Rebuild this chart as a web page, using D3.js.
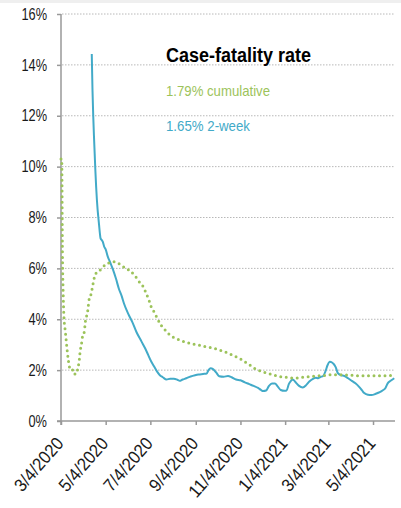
<!DOCTYPE html>
<html><head><meta charset="utf-8">
<script src="https://cdn.jsdelivr.net/npm/d3@7"></script>
<style>
html,body{margin:0;padding:0;background:#fff;}
svg{display:block;}
text{font-family:"Liberation Sans",Arial,sans-serif;}
</style></head><body>
<svg id="c" width="401" height="508"></svg>
<script>
const title = "Case-fatality rate";
const legendLabels = ["1.79% cumulative", "1.65% 2-week"];
const yTicks = [0, 2, 4, 6, 8, 10, 12, 14, 16];
const xTickDates = ["2020-03-04","2020-05-04","2020-07-04","2020-09-04","2020-11-04","2021-01-04","2021-03-04","2021-05-04"];

const cumDates = ["2020-03-04","2020-03-05","2020-03-06","2020-03-07","2020-03-08","2020-03-10","2020-03-12","2020-03-14","2020-03-16","2020-03-19","2020-03-21","2020-03-25","2020-03-27","2020-03-29","2020-03-30","2020-04-01","2020-04-02","2020-04-05","2020-04-06","2020-04-08","2020-04-10","2020-04-11","2020-04-14","2020-04-16","2020-04-18","2020-04-21","2020-04-28","2020-05-03","2020-05-09","2020-05-16","2020-05-23","2020-05-30","2020-06-06","2020-06-13","2020-06-18","2020-06-24","2020-06-28","2020-07-02","2020-07-05","2020-07-10","2020-07-14","2020-07-19","2020-07-25","2020-07-31","2020-08-08","2020-08-15","2020-08-23","2020-08-31","2020-09-08","2020-09-17","2020-09-25","2020-10-03","2020-10-11","2020-10-19","2020-10-27","2020-11-03","2020-11-10","2020-11-17","2020-11-25","2020-12-03","2020-12-11","2020-12-19","2020-12-28","2021-01-05","2021-01-13","2021-01-21","2021-01-29","2021-02-06","2021-02-15","2021-02-23","2021-03-04","2021-03-12","2021-03-20","2021-03-29","2021-04-05","2021-04-14","2021-04-30","2021-05-17","2021-05-29"];
const cumValues = [10.3,10.3,6.5,5.0,4.1,3.5,2.9,2.4,2.1,2.1,1.85,1.85,2.08,2.4,2.71,3.03,3.26,3.54,3.85,4.13,4.44,4.72,4.99,5.27,5.58,5.82,5.97,6.13,6.22,6.26,6.17,6.03,5.91,5.71,5.5,5.29,5.04,4.76,4.5,4.25,4.0,3.75,3.55,3.37,3.25,3.16,3.09,3.03,2.99,2.92,2.88,2.82,2.75,2.66,2.55,2.46,2.33,2.2,2.04,1.95,1.88,1.81,1.74,1.72,1.69,1.69,1.72,1.74,1.77,1.78,1.81,1.82,1.82,1.81,1.80,1.78,1.78,1.78,1.79];

const twoWeekDates = ["2020-04-15","2020-04-16","2020-04-17","2020-04-18","2020-04-19","2020-04-20","2020-04-21","2020-04-22","2020-04-23","2020-04-24","2020-04-25","2020-04-26","2020-04-27","2020-04-29","2020-04-30","2020-05-02","2020-05-04","2020-05-07","2020-05-10","2020-05-14","2020-05-18","2020-05-22","2020-05-26","2020-05-29","2020-06-04","2020-06-10","2020-06-15","2020-06-22","2020-06-27","2020-07-01","2020-07-05","2020-07-09","2020-07-13","2020-07-17","2020-07-21","2020-07-26","2020-07-31","2020-08-05","2020-08-10","2020-08-13","2020-08-17","2020-08-22","2020-08-28","2020-09-03","2020-09-08","2020-09-14","2020-09-19","2020-09-21","2020-09-24","2020-09-28","2020-10-02","2020-10-06","2020-10-12","2020-10-18","2020-10-23","2020-10-29","2020-11-04","2020-11-10","2020-11-16","2020-11-22","2020-11-28","2020-12-02","2020-12-05","2020-12-09","2020-12-13","2020-12-17","2020-12-21","2020-12-25","2020-12-29","2021-01-03","2021-01-06","2021-01-09","2021-01-12","2021-01-14","2021-01-16","2021-01-19","2021-01-23","2021-01-28","2021-02-02","2021-02-06","2021-02-11","2021-02-15","2021-02-18","2021-02-21","2021-02-25","2021-02-28","2021-03-03","2021-03-06","2021-03-09","2021-03-11","2021-03-14","2021-03-17","2021-03-21","2021-03-26","2021-03-31","2021-04-05","2021-04-10","2021-04-15","2021-04-19","2021-04-22","2021-04-27","2021-05-02","2021-05-07","2021-05-12","2021-05-17","2021-05-21","2021-05-24","2021-05-28","2021-06-02"];
const twoWeekValues = [14.43,13.0,12.0,11.2,10.5,9.8,9.2,8.7,8.3,8.0,7.7,7.4,7.18,7.1,7.05,6.85,6.75,6.45,6.25,5.95,5.6,5.2,4.9,4.62,4.2,3.85,3.5,3.12,2.85,2.6,2.35,2.15,1.95,1.8,1.72,1.63,1.66,1.66,1.62,1.58,1.63,1.68,1.75,1.8,1.83,1.85,1.87,1.98,2.07,2.03,1.9,1.76,1.74,1.77,1.72,1.63,1.6,1.52,1.45,1.38,1.3,1.22,1.18,1.2,1.38,1.47,1.47,1.35,1.22,1.19,1.2,1.45,1.58,1.63,1.6,1.5,1.38,1.32,1.42,1.55,1.66,1.7,1.68,1.73,1.77,1.95,2.2,2.33,2.3,2.25,2.12,1.88,1.8,1.77,1.68,1.58,1.48,1.34,1.2,1.1,1.03,1.02,1.06,1.12,1.2,1.3,1.48,1.58,1.68];

const parse = d3.utcParse("%Y-%m-%d");
const fmt = d3.utcFormat("%-m/%-d/%Y");
const green = "#9cc35a", blue = "#42aac8";

function condense(sel, factor) {
  sel.each(function () {
    const w = this.getComputedTextLength();
    d3.select(this).attr("textLength", (w * factor).toFixed(1)).attr("lengthAdjust", "spacingAndGlyphs");
  });
}

const svg = d3.select("#c");
svg.append("rect").attr("x",0).attr("y",0).attr("width",401).attr("height",3).attr("fill","#efefef");

const x = d3.scaleUtc().domain([parse("2020-03-04"), parse("2021-06-03")]).range([61, 395]);
const y = d3.scaleLinear().domain([0, 16]).range([421, 14]);

svg.append("g").selectAll("line").data(yTicks.filter(v => v > 0)).join("line")
  .attr("x1", 62).attr("x2", 395).attr("y1", d => y(d)).attr("y2", d => y(d))
  .attr("stroke", "#b8b8b8").attr("stroke-width", 1).attr("stroke-dasharray", "1.5,1.5");

const yAxis = svg.append("g").attr("transform", "translate(61,0)")
  .call(d3.axisLeft(y).tickValues(yTicks).tickFormat(d => d + "%").tickSize(4).tickPadding(10));
yAxis.select(".domain").attr("stroke", "#999").attr("stroke-width", 1.5).attr("d", "M0,14V425");
yAxis.selectAll(".tick line").attr("stroke", "#999").attr("stroke-width", 1.5);
yAxis.selectAll(".tick text").attr("fill", "#1a1a1a").attr("font-size", 16)
  .attr("font-family", "'Liberation Sans',Arial,sans-serif").call(condense, 0.8);

const xAxis = svg.append("g").attr("transform", "translate(0,421)")
  .call(d3.axisBottom(x).tickValues(xTickDates.map(parse)).tickFormat(fmt).tickSize(4).tickSizeOuter(0));
xAxis.select(".domain").attr("stroke", "#999").attr("stroke-width", 1.5).attr("d", "M57,0H395");
xAxis.selectAll(".tick line").attr("stroke", "#999").attr("stroke-width", 1.5);
xAxis.selectAll(".tick text").attr("fill", "#1a1a1a").attr("font-size", 18)
  .attr("font-family", "'Liberation Sans',Arial,sans-serif")
  .attr("text-anchor", "end").attr("dy", null).attr("y", 0)
  .attr("transform", "translate(3,23) rotate(-49)").call(condense, 0.92);

const cum = cumDates.map((d, i) => ({ date: parse(d), v: cumValues[i] }));
const two = twoWeekDates.map((d, i) => ({ date: parse(d), v: twoWeekValues[i] }));
const line = d3.line().x(d => x(d.date)).y(d => y(d.v)).curve(d3.curveMonotoneX);

svg.append("path").datum(two).attr("d", line).attr("fill", "none")
  .attr("stroke", blue).attr("stroke-width", 2);
svg.append("path").datum(cum).attr("d", line).attr("fill", "none")
  .attr("stroke", green).attr("stroke-width", 3).attr("stroke-linecap", "round")
  .attr("stroke-dasharray", "0,5.5");

svg.append("text").attr("x", 166).attr("y", 62).text(title)
  .attr("font-size", 20).attr("font-weight", "bold").attr("fill", "#000")
  .attr("textLength", 145).attr("lengthAdjust", "spacingAndGlyphs");
svg.append("text").attr("x", 166).attr("y", 96).text(legendLabels[0])
  .attr("font-size", 15).attr("fill", green)
  .attr("textLength", 104).attr("lengthAdjust", "spacingAndGlyphs");
svg.append("text").attr("x", 166).attr("y", 131).text(legendLabels[1])
  .attr("font-size", 15).attr("fill", blue)
  .attr("textLength", 84).attr("lengthAdjust", "spacingAndGlyphs");
</script></body></html>
